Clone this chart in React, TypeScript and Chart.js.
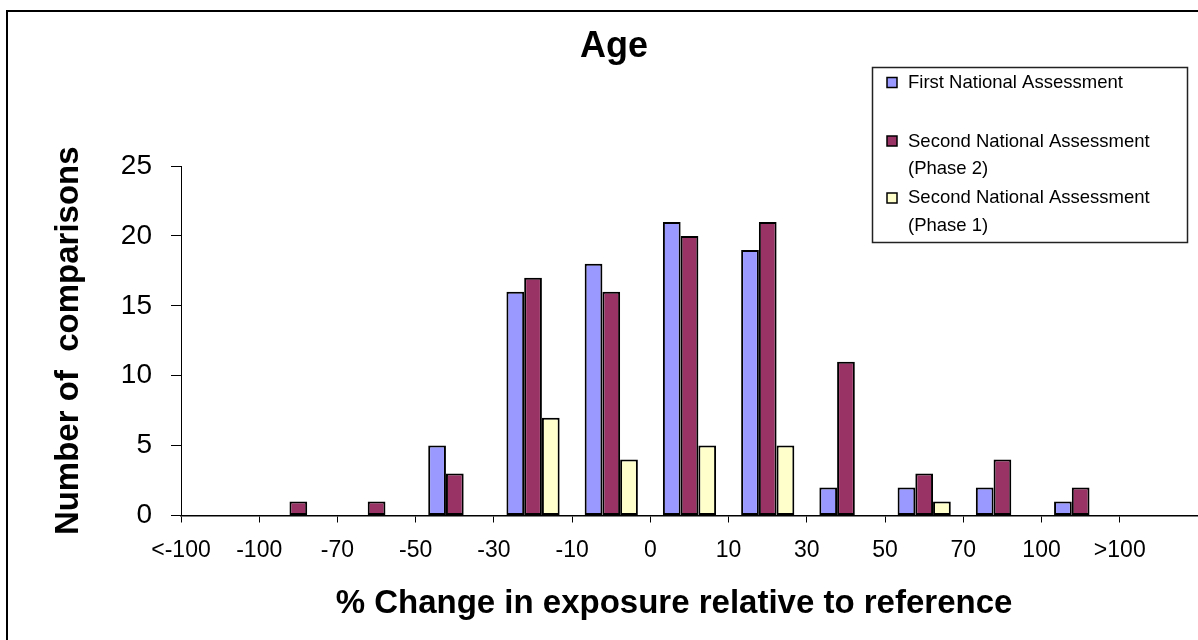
import { useEffect, useRef } from "react";
import { Chart, registerables } from "chart.js";

Chart.register(...registerables);

// Bins between the boundary tick labels
const bins = [
  "< -100",
  "-100 to -70",
  "-70 to -50",
  "-50 to -30",
  "-30 to -10",
  "-10 to 0",
  "0 to 10",
  "10 to 30",
  "30 to 50",
  "50 to 70",
  "70 to 100",
  "100 to >100",
  "> 100",
];

// Tick labels shown at the bin boundaries
const boundaryLabels = ["<-100", "-100", "-70", "-50", "-30", "-10", "0", "10", "30", "50", "70", "100", ">100"];

const firstNational = [0, 0, 0, 5, 16, 18, 21, 19, 2, 2, 2, 1, 0];
const secondPhase2 = [0, 1, 1, 3, 17, 16, 20, 21, 11, 3, 4, 2, 0];
const secondPhase1 = [0, 0, 0, 0, 7, 4, 5, 5, 0, 1, 0, 0, 0];

const seriesNames = ["First National Assessment", "Second National Assessment (Phase 2)", "Second National Assessment (Phase 1)"];
const seriesColors = ["#9999FF", "#993366", "#FFFFCC"];

const yTicks = [0, 5, 10, 15, 20, 25];

const FONT = '"Liberation Sans", Arial, Helvetica, sans-serif';

const decorPlugin = {
  id: "decor",
  beforeDraw(chart: any) {
    const ctx = chart.ctx;
    ctx.save();
    ctx.fillStyle = "#ffffff";
    ctx.fillRect(0, 0, chart.width, chart.height);
    ctx.restore();
  },
  afterDraw(chart: any) {
    const ctx = chart.ctx;
    const area = chart.chartArea;
    ctx.save();
    // outer frame
    ctx.strokeStyle = "#000";
    ctx.lineWidth = 2;
    ctx.strokeRect(7, 11, chart.width + 20, chart.height + 20);

    // title
    ctx.fillStyle = "#000";
    ctx.font = `bold 36px ${FONT}`;
    ctx.textAlign = "center";
    ctx.textBaseline = "alphabetic";
    ctx.fillText("Age", 614, 57);

    // x title
    ctx.font = `bold 33px ${FONT}`;
    ctx.fillText("% Change in exposure relative to reference", 674, 613);

    // y title
    ctx.save();
    ctx.translate(78, (area.top + area.bottom) / 2);
    ctx.rotate(-Math.PI / 2);
    ctx.textAlign = "center";
    ctx.textBaseline = "alphabetic";
    ctx.font = `bold 33px ${FONT}`;
    ctx.fillText("Number of  comparisons", 0, 0);
    ctx.restore();

    // legend
    ctx.strokeStyle = "#222";
    ctx.lineWidth = 1.5;
    ctx.strokeRect(872.5, 67.5, 315, 175);
    const ds = chart.data.datasets;
    const items = [
      { sq: 77.5, lines: [["First National Assessment", 88]] },
      { sq: 136, lines: [["Second National Assessment", 147], ["(Phase 2)", 174]] },
      { sq: 193, lines: [["Second National Assessment", 203], ["(Phase 1)", 231]] },
    ];
    ctx.font = `18.5px ${FONT}`;
    ctx.textAlign = "left";
    items.forEach((it, i) => {
      ctx.fillStyle = ds[i].backgroundColor;
      ctx.fillRect(887, it.sq, 10, 10);
      ctx.lineWidth = 1.5;
      ctx.strokeStyle = "#000";
      ctx.strokeRect(887, it.sq, 10, 10);
      ctx.fillStyle = "#000";
      it.lines.forEach(([t, y]) => ctx.fillText(t as string, 908, y as number));
    });
    ctx.restore();
  },
};

export default function App() {
  const canvasRef = useRef<HTMLCanvasElement | null>(null);

  useEffect(() => {
    if (!canvasRef.current) return;
    const data = [firstNational, secondPhase2, secondPhase1];
    const chart = new Chart(canvasRef.current, {
      type: "bar",
      data: {
        labels: bins,
        datasets: data.map((d, i) => ({
          label: seriesNames[i],
          data: d,
          backgroundColor: seriesColors[i],
          borderColor: "#000",
          borderWidth: 2,
          borderSkipped: false,
          categoryPercentage: 0.68,
          barPercentage: 1.0,
        })),
      },
      options: {
        responsive: false,
        animation: false,
        events: [],
        layout: { padding: { top: 166, left: 0, right: 0, bottom: 0 } },
        plugins: {
          legend: { display: false },
          title: { display: false },
          tooltip: { enabled: false },
        },
        scales: {
          x: {
            type: "category",
            display: false,
            offset: true,
          },
          x2: {
            type: "linear",
            position: "bottom",
            min: -0.5,
            max: 12.5,
            offset: false,
            afterBuildTicks: (axis: any) => {
              axis.ticks = boundaryLabels.map((_, i) => ({ value: i - 0.5 }));
            },
            afterFit: (axis: any) => {
              axis.height = 124.5;
            },
            ticks: {
              autoSkip: false,
              maxRotation: 0,
              minRotation: 0,
              padding: 14,
              color: "#000",
              font: { family: FONT, size: 23 },
              callback: (_v: any, i: number) => boundaryLabels[i],
            },
            grid: { offset: false, drawOnChartArea: false, drawTicks: true, tickLength: 7, color: "#000", lineWidth: 1 },
            border: { display: true, color: "#000", width: 1.5 },
          },
          y: {
            min: 0,
            max: 25,
            afterBuildTicks: (axis: any) => {
              axis.ticks = yTicks.map((v) => ({ value: v }));
            },
            afterFit: (axis: any) => {
              axis.width = 181;
            },
            ticks: {
              padding: 19,
              color: "#000",
              font: { family: FONT, size: 28 },
            },
            grid: { drawOnChartArea: false, drawTicks: true, tickLength: 10, color: "#000", lineWidth: 1 },
            border: { display: true, color: "#000", width: 1 },
          },
        },
      },
      plugins: [decorPlugin],
    });
    return () => chart.destroy();
  }, []);

  return (
    <div style={{ position: "absolute", left: 0, top: 0, width: 1198, height: 640, background: "#fff" }}>
      <canvas ref={canvasRef} width={1198} height={640} />
    </div>
  );
}
